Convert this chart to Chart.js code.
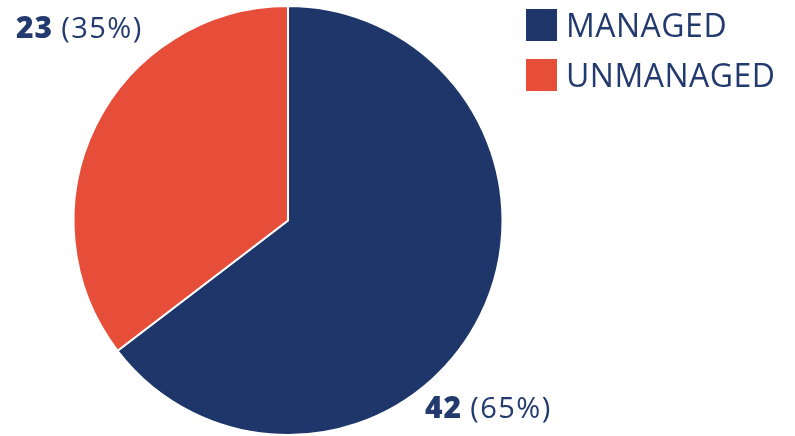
<!DOCTYPE html>
<html>
<head>
<meta charset="utf-8">
<script src="https://cdn.jsdelivr.net/npm/chart.js@4"></script>
<style>
  html, body { margin: 0; padding: 0; background: #fff; }
  #wrap { width: 795px; height: 436px; }
</style>
</head>
<body>
<div id="wrap"><canvas id="pie"></canvas></div>
<script>
const categories = ['MANAGED', 'UNMANAGED'];
const counts = [42, 23];
const colors = ['#1e3669', '#e64e3a'];
const textColor = '#233a6e';

// labels placed near each slice
const labelSpots = [
  { x: 425, y: 418 },
  { x: 16, y: 38 }
];

const labelsPlugin = {
  id: 'sliceLabels',
  afterDraw(chart) {
    const ctx = chart.ctx;
    const data = chart.data.datasets[0].data;
    const total = data.reduce((a, b) => a + b, 0);
    ctx.save();
    ctx.textBaseline = 'alphabetic';
    ctx.fillStyle = textColor;
    data.forEach((v, i) => {
      const pct = Math.round(v / total * 100);
      const p = labelSpots[i];
      ctx.font = '800 30px "Open Sans"';
      ctx.letterSpacing = '1px';
      ctx.fillText(String(v), p.x, p.y);
      const w = ctx.measureText(String(v)).width;
      ctx.font = '29px "Open Sans"';
      ctx.letterSpacing = '1.5px';
      ctx.fillText('(' + pct + '%)', p.x + w + 8, p.y);
    });

    // legend
    ctx.letterSpacing = '0.5px';
    chart.data.labels.forEach((lab, i) => {
      const y = 9 + i * 50;
      ctx.fillStyle = chart.data.datasets[0].backgroundColor[i];
      ctx.fillRect(526, y, 31, 32);
      ctx.fillStyle = textColor;
      ctx.font = '32px "Open Sans"';
      ctx.fillText(lab, 566, y + 28);
    });
    ctx.restore();
  }
};

new Chart(document.getElementById('pie'), {
  type: 'pie',
  data: {
    labels: categories,
    datasets: [{
      data: counts,
      backgroundColor: colors,
      borderColor: '#ffffff',
      borderWidth: 2
    }]
  },
  options: {
    responsive: true,
    maintainAspectRatio: false,
    animation: false,
    layout: { padding: { left: 70, right: 289, top: 5, bottom: -6 } },
    plugins: {
      legend: { display: false },
      tooltip: { enabled: false }
    }
  },
  plugins: [labelsPlugin]
});
</script>
</body>
</html>
